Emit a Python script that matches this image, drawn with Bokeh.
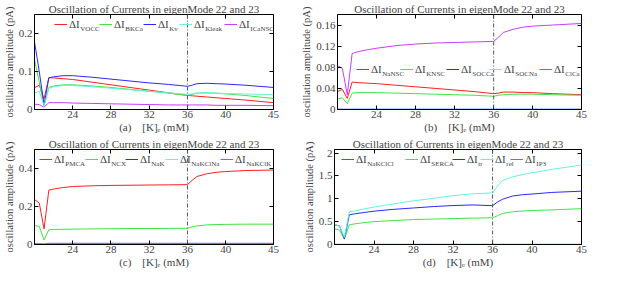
import math
from bokeh.plotting import figure
from bokeh.models import (Legend, LegendItem, Label, Span, FixedTicker, LinearAxis,
                          Range1d, CustomJSTickFormatter)
from bokeh.layouts import column, row
from bokeh.embed import file_html
from bokeh.resources import INLINE

FONT = "Liberation Serif"
NB = "\u00a0"

# ---------------- data ----------------
k_ext = [20, 20.5, 21, 21.5, 22, 23, 24, 26, 28, 30, 32, 34, 36, 36.5, 37, 38, 39, 40, 42, 45]
x_ticks = [24, 28, 32, 36, 40, 45]
k_transition = 36
k_min, k_max = 20, 45

title_text = "Oscillation of Currents in eigenMode 22 and 23"
y_axis_text = "oscillation amplitude (pA)"
x_axis_text = "[K]\u2091 (mM)"

# panel (a)
a_names = ["VOCC", "BKCa", "Kv", "Kleak", "ICaNSC"]
dI_VOCC = [0.057, 0.064, 0.028, 0.084, 0.083, 0.081, 0.079, 0.072, 0.065, 0.058, 0.051, 0.044, 0.037, 0.036, 0.035, 0.033, 0.031, 0.029, 0.025, 0.018]
dI_BKCa = [0.132, 0.072, 0.010, 0.058, 0.062, 0.065, 0.065, 0.062, 0.058, 0.053, 0.048, 0.043, 0.037, 0.040, 0.043, 0.044, 0.043, 0.041, 0.037, 0.029]
dI_Kv = [0.178, 0.100, 0.012, 0.083, 0.086, 0.089, 0.089, 0.085, 0.080, 0.075, 0.070, 0.066, 0.061, 0.064, 0.068, 0.069, 0.068, 0.067, 0.064, 0.058]
dI_Kleak = [0.043, 0.048, 0.010, 0.056, 0.060, 0.063, 0.063, 0.060, 0.056, 0.052, 0.048, 0.044, 0.040, 0.041, 0.043, 0.043, 0.043, 0.042, 0.041, 0.039]
dI_ICaNSC = [0.014, 0.013, 0.006, 0.018, 0.018, 0.018, 0.017, 0.016, 0.015, 0.014, 0.013, 0.012, 0.012, 0.012, 0.012, 0.012, 0.011, 0.011, 0.011, 0.010]
a_y_ticks = [0, 0.1, 0.2]
a_y_labels = ["0", "0.1", "0.2"]
a_y_max = 0.25

# panel (b)
b_names = ["NaNSC", "KNSC", "SOCCa", "SOCNa", "ClCa"]
dI_NaNSC = [0.034, 0.038, 0.021, 0.052, 0.051, 0.050, 0.049, 0.046, 0.043, 0.040, 0.037, 0.034, 0.030, 0.031, 0.033, 0.033, 0.032, 0.032, 0.030, 0.028]
dI_KNSC = [0.020, 0.022, 0.011, 0.031, 0.032, 0.032, 0.032, 0.031, 0.030, 0.029, 0.028, 0.027, 0.025, 0.027, 0.028, 0.029, 0.029, 0.029, 0.028, 0.027]
dI_SOCCa = [0.0005, 0.0005, 0.0004, 0.0005, 0.0005, 0.0005, 0.0005, 0.0005, 0.0005, 0.0005, 0.0005, 0.0005, 0.0005, 0.0005, 0.0005, 0.0005, 0.0005, 0.0005, 0.0005, 0.0005]
dI_SOCNa = [0.0003, 0.0003, 0.0002, 0.0003, 0.0003, 0.0003, 0.0003, 0.0003, 0.0003, 0.0003, 0.0003, 0.0003, 0.0003, 0.0003, 0.0003, 0.0003, 0.0003, 0.0003, 0.0003, 0.0003]
dI_ClCa = [0.083, 0.078, 0.028, 0.106, 0.109, 0.113, 0.116, 0.121, 0.124, 0.126, 0.127, 0.128, 0.129, 0.137, 0.146, 0.152, 0.156, 0.158, 0.160, 0.163]
b_y_ticks = [0, 0.04, 0.08, 0.12, 0.16]
b_y_labels = ["0", "0.04", "0.08", "0.12", "0.16"]
b_y_max = 0.18

# panel (c)
c_names = ["PMCA", "NCX", "NaK", "NaKClNa", "NaKClK"]
dI_PMCA = [0.237, 0.218, 0.082, 0.286, 0.292, 0.300, 0.305, 0.309, 0.311, 0.312, 0.313, 0.314, 0.315, 0.338, 0.358, 0.372, 0.380, 0.384, 0.389, 0.392]
dI_NCX = [0.100, 0.095, 0.024, 0.077, 0.079, 0.080, 0.081, 0.082, 0.083, 0.084, 0.084, 0.085, 0.085, 0.093, 0.098, 0.103, 0.105, 0.106, 0.107, 0.107]
dI_NaK = [0.004, 0.004, 0.002, 0.006, 0.006, 0.006, 0.006, 0.006, 0.006, 0.006, 0.006, 0.006, 0.006, 0.006, 0.006, 0.006, 0.006, 0.006, 0.006, 0.006]
dI_NaKClNa = [0.002, 0.002, 0.001, 0.002, 0.002, 0.002, 0.002, 0.002, 0.002, 0.002, 0.002, 0.002, 0.002, 0.002, 0.002, 0.002, 0.002, 0.002, 0.002, 0.002]
dI_NaKClK = [0.001, 0.001, 0.001, 0.001, 0.001, 0.001, 0.001, 0.001, 0.001, 0.001, 0.001, 0.001, 0.001, 0.001, 0.001, 0.001, 0.001, 0.001, 0.001, 0.001]
c_y_ticks = [0, 0.2, 0.4]
c_y_labels = ["0", "0.2", "0.4"]
c_y_max = 0.5

# panel (d)
d_names = ["NaKClCl", "SERCA", "tr", "rel", "IP3"]
dI_NaKClCl = [0.003, 0.003, 0.002, 0.003, 0.003, 0.003, 0.003, 0.003, 0.003, 0.003, 0.003, 0.003, 0.003, 0.003, 0.003, 0.003, 0.003, 0.003, 0.003, 0.003]
dI_SERCA = [0.34, 0.32, 0.116, 0.43, 0.45, 0.48, 0.50, 0.525, 0.546, 0.557, 0.567, 0.578, 0.585, 0.63, 0.68, 0.717, 0.733, 0.744, 0.758, 0.785]
dI_tr = [0.43, 0.41, 0.12, 0.65, 0.67, 0.70, 0.73, 0.77, 0.80, 0.83, 0.853, 0.866, 0.85, 0.93, 0.99, 1.06, 1.09, 1.105, 1.14, 1.167]
dI_rel = [0.444, 0.40, 0.157, 0.717, 0.73, 0.78, 0.82, 0.89, 0.956, 1.01, 1.07, 1.11, 1.13, 1.28, 1.40, 1.48, 1.53, 1.57, 1.645, 1.74]
dI_IP3 = [0.001, 0.001, 0.001, 0.001, 0.001, 0.001, 0.001, 0.001, 0.001, 0.001, 0.001, 0.001, 0.001, 0.001, 0.001, 0.001, 0.001, 0.001, 0.001, 0.001]
d_y_ticks = [0, 0.5, 1, 1.5, 2]
d_y_labels = ["0", "0.5", "1", "1.5", "2"]
d_y_max = 2.08

series_colors = ["#ff2020", "#3ee63e", "#2a2aff", "#5ff5e0", "#c83cff"]


def make_panel(tag, names, series, y_max, y_ticks, y_labels, legend_xs, legend_top, col):
    if col == 0:
        W, bl, br = 298, 27, 25
    else:
        W, bl, br = 307, 36, 24
    H, bt, bb = 135, 13, 26
    fh = H - bt - bb

    p = figure(width=W, height=H, output_backend="svg", toolbar_location=None,
               x_range=Range1d(k_min, k_max), y_range=Range1d(0, y_max),
               min_border_left=bl, min_border_right=br,
               min_border_top=bt, min_border_bottom=bb,
               background_fill_color="white", border_fill_color="white")
    p.title.text = title_text
    p.title.text_font = FONT
    p.title.text_font_size = "11px"
    p.title.text_font_style = "normal"
    p.title.align = "center"
    p.title.standoff = 0
    p.xgrid.visible = False
    p.ygrid.visible = False
    p.outline_line_color = "black"
    p.outline_line_alpha = 1
    p.outline_line_width = 1

    for ax in (p.xaxis[0], p.yaxis[0]):
        ax.major_tick_in = 4
        ax.major_tick_out = 0
        ax.minor_tick_line_color = None
        ax.major_label_text_font = FONT
        ax.major_label_text_font_size = "11px"
        ax.major_label_standoff = 2
        ax.axis_line_color = "black"
        ax.major_tick_line_color = "black"
        ax.axis_label_text_font = FONT
        ax.axis_label_text_font_style = "normal"
        ax.axis_label_standoff = 0
    p.xaxis.major_label_standoff = 1
    p.xaxis.axis_label = "(" + tag + ")" + NB * 4 + x_axis_text
    p.xaxis.axis_label_text_font_size = "11px"
    p.yaxis.axis_label = y_axis_text
    p.yaxis.axis_label_text_font_size = "10.5px"
    p.yaxis.axis_label_standoff = 1
    p.xaxis.ticker = FixedTicker(ticks=x_ticks)
    p.xaxis.major_label_overrides = {t: str(t) for t in x_ticks}
    p.yaxis.ticker = FixedTicker(ticks=y_ticks)
    p.yaxis.major_label_overrides = dict(zip(y_ticks, y_labels))

    blank = CustomJSTickFormatter(code="return ''")
    top = LinearAxis(ticker=FixedTicker(ticks=x_ticks), formatter=blank,
                     major_tick_in=4, major_tick_out=0, minor_tick_line_color=None,
                     major_label_standoff=0, axis_line_color=None)
    right = LinearAxis(ticker=FixedTicker(ticks=y_ticks), formatter=blank,
                       major_tick_in=4, major_tick_out=0, minor_tick_line_color=None,
                       major_label_standoff=0, axis_line_color=None)
    p.add_layout(top, "above")
    p.add_layout(right, "right")

    p.add_layout(Span(location=k_transition, dimension="height", line_color="#555555",
                      line_dash="4 2 1 2", line_width=1))

    renderers = []
    for vals, c in zip(series, series_colors):
        renderers.append(p.line(k_ext, vals, line_color=c, line_width=1))

    cy = fh - legend_top
    for lx, name, r in zip(legend_xs, names, renderers):
        leg = Legend(items=[LegendItem(label="ΔI", renderers=[r])],
                     location=(lx, cy - 6.5), orientation="horizontal",
                     padding=0, margin=0, spacing=0, glyph_width=13, glyph_height=12,
                     label_standoff=2, label_width=8, label_height=12,
                     label_text_font=FONT, label_text_font_size="11px",
                     border_line_color=None, background_fill_alpha=0)
        p.add_layout(leg)
        p.add_layout(Label(x=lx + 13 + 2 + 10.8, y=cy - 5.5, x_units="screen", y_units="screen",
                           text=name, text_font=FONT, text_font_size="7px",
                           text_baseline="middle", text_align="left"))
    return p


pa = make_panel("a", a_names, [dI_VOCC, dI_BKCa, dI_Kv, dI_Kleak, dI_ICaNSC],
                a_y_max, a_y_ticks, a_y_labels, [20, 65, 109, 145, 190], 10, 0)
pb = make_panel("b", b_names, [dI_NaNSC, dI_KNSC, dI_SOCCa, dI_SOCNa, dI_ClCa],
                b_y_max, b_y_ticks, b_y_labels, [19, 63, 109, 152, 202], 55, 1)
pc = make_panel("c", c_names, [dI_PMCA, dI_NCX, dI_NaK, dI_NaKClNa, dI_NaKClK],
                c_y_max, c_y_ticks, c_y_labels, [5, 51, 91, 131, 186], 10, 0)
pd = make_panel("d", d_names, [dI_NaKClCl, dI_SERCA, dI_tr, dI_rel, dI_IP3],
                d_y_max, d_y_ticks, d_y_labels, [7, 71, 118, 146, 176], 10, 1)

layout = column(row(pa, pb), row(pc, pd))
open("out.html", "w").write(file_html(layout, INLINE))
